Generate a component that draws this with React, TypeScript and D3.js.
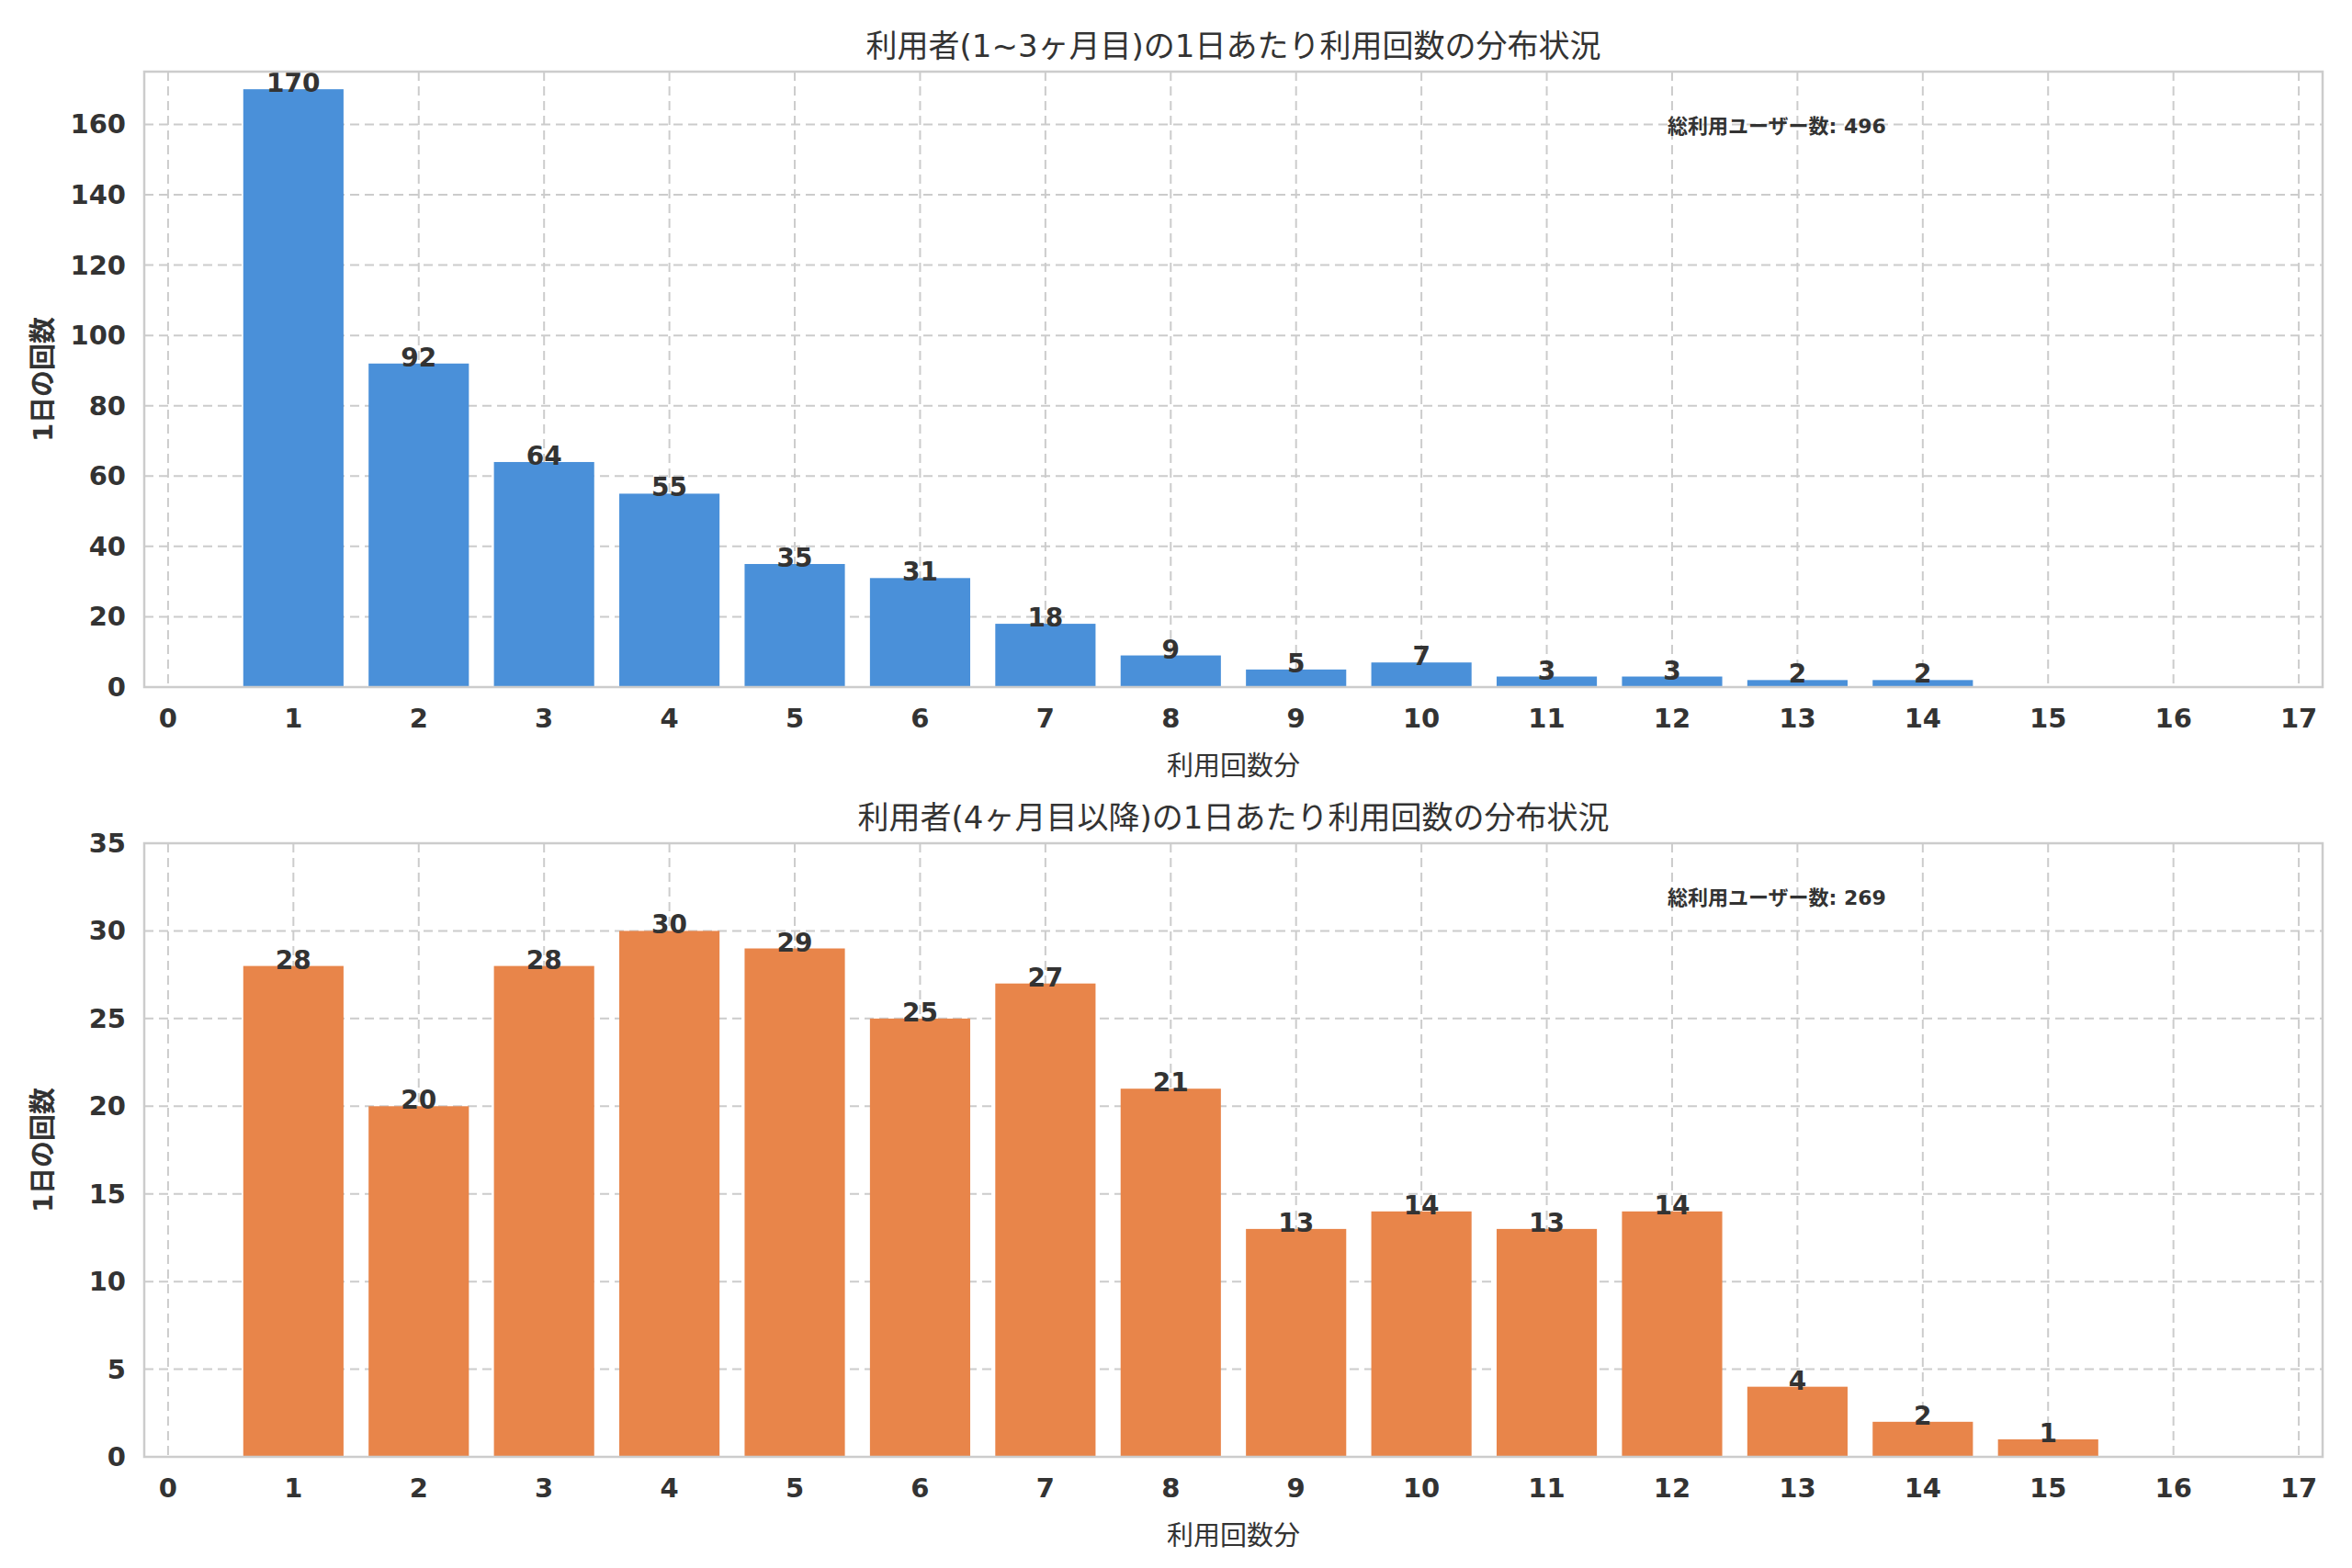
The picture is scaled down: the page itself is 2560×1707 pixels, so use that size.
import { scaleLinear } from "d3";

const categories = [1, 2, 3, 4, 5, 6, 7, 8, 9, 10, 11, 12, 13, 14, 15];
const earlyValues = [170, 92, 64, 55, 35, 31, 18, 9, 5, 7, 3, 3, 2, 2, 0];
const laterValues = [28, 20, 28, 30, 29, 25, 27, 21, 13, 14, 13, 14, 4, 2, 1];
const xTicks = Array.from({ length: 18 }, (_, i) => i);
const earlyYTicks = [0, 20, 40, 60, 80, 100, 120, 140, 160];
const laterYTicks = [0, 5, 10, 15, 20, 25, 30, 35];

const W = 2560, H = 1707;
const L = 157, R = 2528;
const FONT = "DejaVu Sans, Noto Sans CJK JP, sans-serif";

const Panel = ({ top, bottom, values, yMax, yTicks, color, title, total }: any) => {
  const x = scaleLinear().domain([-0.19, 17.19]).range([L, R]);
  const y = scaleLinear().domain([0, yMax]).range([bottom, top]);
  const bw = x(0.8) - x(0);
  return (
    <g fontFamily={FONT}>
      <text x={(L + R) / 2} y={top - 16} textAnchor="middle" fontSize={34} fill="#333">{title}</text>
      {xTicks.map(t => (
        <line key={"gx" + t} x1={x(t)} x2={x(t)} y1={top} y2={bottom} stroke="#ccc" strokeWidth={2} strokeDasharray="10,6" />
      ))}
      {yTicks.map(t => (
        <line key={"gy" + t} x1={L} x2={R} y1={y(t)} y2={y(t)} stroke="#ccc" strokeWidth={2} strokeDasharray="10,6" />
      ))}
      {categories.map((c, i) => values[i] > 0 && (
        <g key={c}>
          <rect x={x(c) - bw / 2} y={y(values[i])} width={bw} height={bottom - y(values[i])} fill={color} />
          <text x={x(c)} y={y(values[i]) + 3} textAnchor="middle" fontSize={28} fontWeight="bold" fill="#333">{values[i]}</text>
        </g>
      ))}
      <rect x={L} y={top} width={R - L} height={bottom - top} fill="none" stroke="#ccc" strokeWidth={2.5} />
      {xTicks.map(t => (
        <text key={"tx" + t} x={x(t)} y={bottom + 44} textAnchor="middle" fontSize={29} fontWeight="bold" fill="#333">{t}</text>
      ))}
      {yTicks.map(t => (
        <text key={"ty" + t} x={L - 20} y={y(t) + 10} textAnchor="end" fontSize={29} fontWeight="bold" fill="#333">{t}</text>
      ))}
      <text x={(L + R) / 2} y={bottom + 96} textAnchor="middle" fontSize={29} fill="#333">利用回数分</text>
      <text transform={`translate(${L - 100},${(top + bottom) / 2}) rotate(-90)`} textAnchor="middle" fontSize={29} fontWeight="bold" fill="#333">1日の回数</text>
      <text x={x(12) - 5} y={top + 67} fontSize={22} fontWeight="bold" fill="#333">総利用ユーザー数: {total}</text>
    </g>
  );
};

export default function App() {
  return (
    <svg width={W} height={H} style={{ display: "block", margin: -8 }}>
      <rect width={W} height={H} fill="#fff" />
      <Panel top={78} bottom={748} values={earlyValues} yMax={175} yTicks={earlyYTicks} color="#4A90D9"
        title="利用者(1~3ヶ月目)の1日あたり利用回数の分布状況" total={496} />
      <Panel top={918} bottom={1586} values={laterValues} yMax={35} yTicks={laterYTicks} color="#E8854A"
        title="利用者(4ヶ月目以降)の1日あたり利用回数の分布状況" total={269} />
    </svg>
  );
}
